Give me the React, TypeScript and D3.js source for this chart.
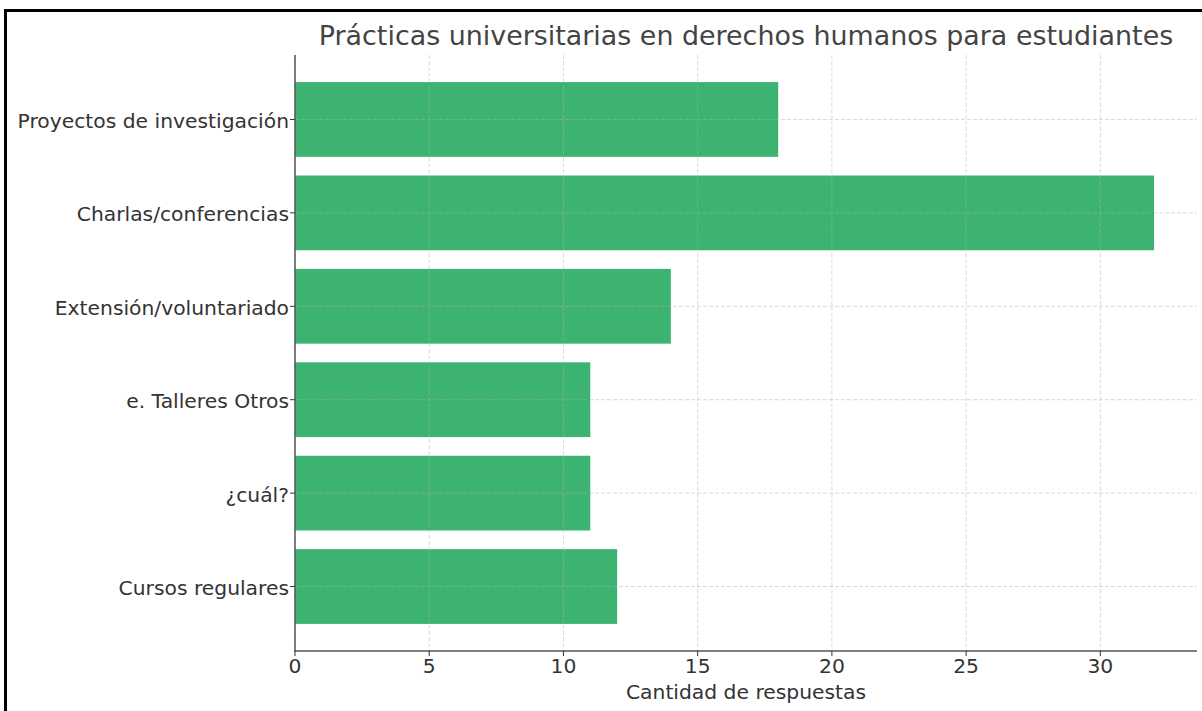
import React from "react";
import * as d3 from "d3";

const categories = [
  "Proyectos de investigación",
  "Charlas/conferencias",
  "Extensión/voluntariado",
  "e. Talleres Otros",
  "¿cuál?",
  "Cursos regulares",
];
const values = [18, 32, 14, 11, 11, 12];
const xTicks = [0, 5, 10, 15, 20, 25, 30];
const title = "Prácticas universitarias en derechos humanos para estudiantes";
const xLabel = "Cantidad de respuestas";

export default function App() {
  const W = 1202, H = 711;
  const left = 295, right = 1197, top = 55, bottom = 651;
  const x = d3.scaleLinear().domain([0, 33.6]).range([left, right]);
  const n = categories.length;
  const y = d3.scaleLinear().domain([-0.69, n - 1 + 0.69]).range([bottom, top]);
  const barH = Math.abs(y(0.4) - y(-0.4));
  const font = "DejaVu Sans, sans-serif";
  const textColor = "#333";
  const gridColor = "#b0b0b0";
  const fs = 20.3;
  return (
    <svg width={W} height={H} style={{ position: "absolute", left: 0, top: 0, background: "#fff" }} fontFamily={font}>
      <rect x={0} y={0} width={W} height={H} fill="#fff" />
      <line x1={5.5} y1={9} x2={5.5} y2={H} stroke="#000" strokeWidth={3} />
      <line x1={4} y1={10.5} x2={W} y2={10.5} stroke="#000" strokeWidth={3} />
      {categories.map((c, i) => {
        const idx = n - 1 - i;
        return (
          <rect key={c} x={x(0)} y={y(idx) - barH / 2} width={x(values[i]) - x(0)} height={barH} fill="#3cb371" />
        );
      })}
      {xTicks.map((t) => (
        <line key={"gx" + t} x1={x(t)} x2={x(t)} y1={top} y2={bottom} stroke={gridColor} strokeOpacity={0.6} strokeDasharray="4,2" strokeWidth={0.8} />
      ))}
      {categories.map((c, i) => {
        const idx = n - 1 - i;
        return (
          <line key={"gy" + c} x1={left} x2={right} y1={y(idx)} y2={y(idx)} stroke={gridColor} strokeOpacity={0.6} strokeDasharray="4,2" strokeWidth={0.8} />
        );
      })}
      <line x1={left} x2={left} y1={top} y2={bottom + 1} stroke="#555" strokeWidth={1.5} />
      <line x1={left} x2={right} y1={bottom} y2={bottom} stroke="#555" strokeWidth={1.5} />
      {xTicks.map((t) => (
        <g key={"tx" + t}>
          <line x1={x(t)} x2={x(t)} y1={bottom} y2={bottom + 5} stroke="#333" strokeWidth={1} />
          <text x={x(t)} y={673} textAnchor="middle" fontSize={fs} fill={textColor}>{t}</text>
        </g>
      ))}
      {categories.map((c, i) => {
        const idx = n - 1 - i;
        return (
          <g key={"ty" + c}>
            <line x1={left - 5} x2={left} y1={y(idx)} y2={y(idx)} stroke="#333" strokeWidth={1} />
            <text x={left - 6} y={y(idx)} dy="0.42em" textAnchor="end" fontSize={fs} fill={textColor}>{c}</text>
          </g>
        );
      })}
      <text x={(left + right) / 2} y={699} textAnchor="middle" fontSize={fs} fill={textColor}>{xLabel}</text>
      <text x={(left + right) / 2} y={45} textAnchor="middle" fontSize={26.9} fill="#444">{title}</text>
    </svg>
  );
}
